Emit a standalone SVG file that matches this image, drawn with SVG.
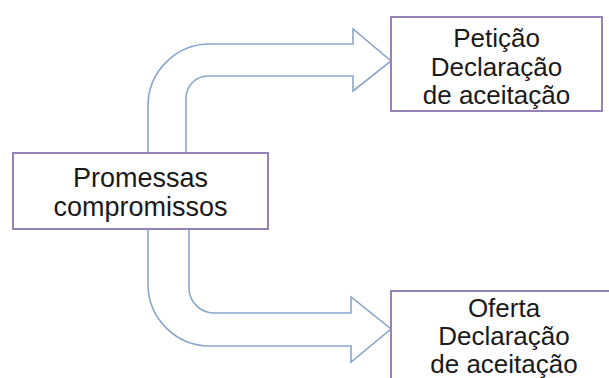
<svg xmlns="http://www.w3.org/2000/svg" width="609" height="378" viewBox="0 0 609 378">
<style>
.box{fill:#ffffff;stroke:#9582b6;stroke-width:2}
.arrow{fill:#ffffff;stroke:#8aa6cc;stroke-width:1.6;stroke-linejoin:miter}
.t{font-family:"Liberation Sans",Arial,sans-serif;font-size:26px;fill:#1a1a1a;text-anchor:middle}
</style>
<rect width="609" height="378" fill="#ffffff"/>
<g id="connectors">
<path class="arrow" d="M148,153 L148,106 A62,62 0 0 1 210,44 L353,44 L353,29 L391,61 L353,91 L353,76 L208,76 A22,22 0 0 0 186,98 L186,153"/>
<path class="arrow" d="M148,229 L148,284 A62,62 0 0 0 210,346 L351,346 L351,362 L391,329 L351,297 L351,313 L214,313 A25,25 0 0 1 189,288 L189,229"/>
</g>
<g id="node-promessas">
<rect class="box" x="13" y="153" width="255" height="76"/>
<text class="t" x="140.5" y="187" style="font-size:27px">Promessas</text>
<text class="t" x="140.5" y="216" style="font-size:27px">compromissos</text>
</g>
<g id="node-peticao">
<rect class="box" x="391" y="17" width="211" height="94"/>
<text class="t" x="496.5" y="47">Petição</text>
<text class="t" x="496.5" y="76">Declaração</text>
<text class="t" x="496.5" y="104">de aceitação</text>
</g>
<g id="node-oferta">
<rect class="box" x="391" y="291" width="230" height="100"/>
<text class="t" x="504" y="317">Oferta</text>
<text class="t" x="504" y="345">Declaração</text>
<text class="t" x="504" y="373">de aceitação</text>
</g>
</svg>
